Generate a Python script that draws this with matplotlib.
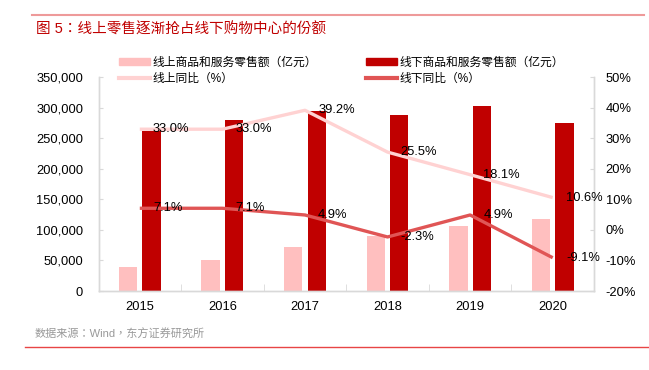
import matplotlib
matplotlib.use("Agg")
import matplotlib.pyplot as plt
from matplotlib.lines import Line2D
from matplotlib.patches import Patch
from matplotlib.ticker import FuncFormatter, MultipleLocator
import numpy as np

plt.rcParams['font.family'] = ['Liberation Sans', 'Noto Sans CJK TC', 'DejaVu Sans']

years = ['2015', '2016', '2017', '2018', '2019', '2020']
online_sales = [38773, 51556, 71751, 90065, 106324, 117601]
offline_sales = [262000, 280500, 294000, 289000, 303000, 274500]
online_yoy = [33.0, 33.0, 39.2, 25.5, 18.1, 10.6]
offline_yoy = [7.1, 7.1, 4.9, -2.3, 4.9, -9.1]

title = '图 5：线上零售逐渐抢占线下购物中心的份额'
source = '数据来源：Wind，东方证券研究所'
lab_on_bar = '线上商品和服务零售额（亿元）'
lab_off_bar = '线下商品和服务零售额（亿元）'
lab_on_line = '线上同比（%）'
lab_off_line = '线下同比（%）'

c_pink = '#FFBFBF'
c_dark = '#C00000'
c_on_line = '#FFD2D2'
c_off_line = '#E05555'
c_spine = '#D9D9D9'

W, H = 649, 370
fig = plt.figure(figsize=(W / 100, H / 100), dpi=100)
L, R, T, B = 98.5, 594, 77.3, 291
ax = fig.add_axes([L / W, 1 - B / H, (R - L) / W, (B - T) / H])

x = np.arange(len(years))
bw = 0.222
off = 0.142
ax.bar(x - off, online_sales, bw, color=c_pink, zorder=2)
ax.bar(x + off, offline_sales, bw, color=c_dark, zorder=2)
ax.set_xlim(-0.5, len(years) - 0.5)
ax.set_ylim(0, 350000)
ax.yaxis.set_major_locator(MultipleLocator(50000))
ax.yaxis.set_major_formatter(FuncFormatter(lambda v, p: f'{int(v):,}'))
ax.set_xticks(x)
ax.set_xticklabels(years)
ax.set_xticks(np.arange(len(years) + 1) - 0.5, minor=True)
ax.tick_params(axis='x', which='major', length=0, labelsize=9.3, pad=7)
ax.tick_params(axis='x', which='minor', direction='in', length=5, color=c_spine)
ax.tick_params(axis='y', direction='in', length=3, color=c_spine, labelsize=9.3, pad=11)

ax2 = ax.twinx()
ax2.plot(x, online_yoy, color=c_on_line, lw=2.4, solid_capstyle='butt', zorder=3)
ax2.plot(x, offline_yoy, color=c_off_line, lw=2.4, solid_capstyle='butt', zorder=3)
ax2.set_ylim(-20, 50)
ax2.yaxis.set_major_locator(MultipleLocator(10))
ax2.yaxis.set_major_formatter(FuncFormatter(lambda v, p: f'{int(round(v))}%'))
ax2.tick_params(axis='y', direction='in', length=3, color=c_spine, labelsize=9.3, pad=8.5)

for xi, v in zip(x, online_yoy):
    ax2.annotate(f'{v:.1f}%', (xi, v), xytext=(9.5, 0), textcoords='offset points',
                 ha='left', va='center', fontsize=9.3, color='black', zorder=5)
for xi, v in zip(x, offline_yoy):
    ax2.annotate(f'{v:.1f}%', (xi, v), xytext=(9.5, 0), textcoords='offset points',
                 ha='left', va='center', fontsize=9.3, color='black', zorder=5)

for a in (ax, ax2):
    a.spines['top'].set_visible(False)
    for s in ('left', 'right', 'bottom'):
        a.spines[s].set_color(c_spine)
        a.spines[s].set_linewidth(1.0)

leg_kw = dict(loc='upper left', frameon=False, fontsize=8.5, handlelength=2.6,
              handletextpad=0.2, labelspacing=0.3, borderpad=0, borderaxespad=0,
              handleheight=0.55)
leg1 = fig.legend([Patch(color=c_pink), Line2D([], [], color=c_on_line, lw=3)],
                  [lab_on_bar, lab_on_line], bbox_to_anchor=(119 / W, 1 - 57 / H), **leg_kw)
leg2 = fig.legend([Patch(color=c_dark), Line2D([], [], color=c_off_line, lw=3)],
                  [lab_off_bar, lab_off_line], bbox_to_anchor=(366 / W, 1 - 57 / H), **leg_kw)

fig.text(36 / W, 1 - 30 / H, title, fontsize=10.5, color='#C00000', va='center', ha='left')
fig.text(35 / W, 1 - 334 / H, source, fontsize=8, color='#999999', va='center', ha='left')
fig.add_artist(Line2D([32 / W, 644 / W], [1 - 15 / H, 1 - 15 / H], color='#EE9A9A', lw=1.5))
fig.add_artist(Line2D([25 / W, 1.0], [1 - 346.7 / H, 1 - 346.7 / H], color='#E84545', lw=1.0))

fig.savefig('out.png', dpi=100, facecolor='white')
